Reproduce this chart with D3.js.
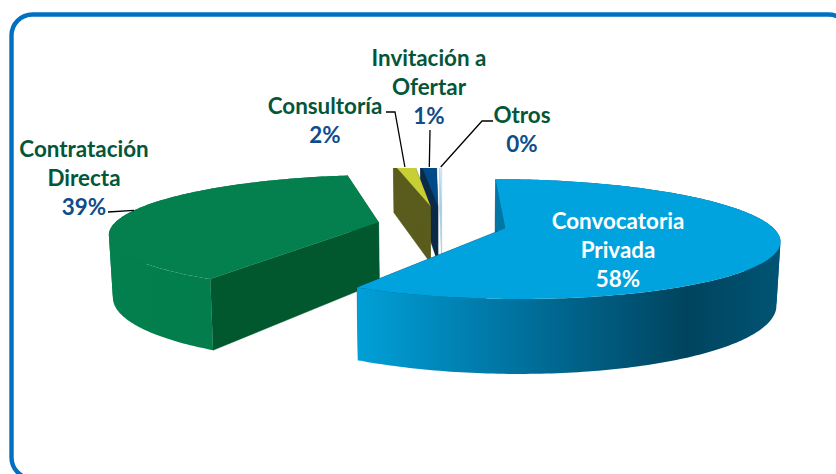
<!DOCTYPE html>
<html><head><meta charset="utf-8">
<script src="https://cdn.jsdelivr.net/npm/d3@7"></script>
<style>html,body{margin:0;padding:0;background:#fff;overflow:hidden}svg{display:block}text{font-family:Lato,"Open Sans",sans-serif;font-weight:700;text-anchor:middle}</style>
</head><body><svg id="c" width="836" height="474"></svg>
<script>
// Data
const categories = ["Convocatoria Privada","Contratación Directa","Consultoría","Invitación a Ofertar","Otros"];
const values = [58.4, 38.7, 1.55, 1.2, 0.15];
// Label layout
const labelLines = [["Convocatoria","Privada"],["Contratación","Directa"],["Consultoría"],["Invitación a","Ofertar"],["Otros"]];
const labelX = [618, 84, 325, 429, 522];
const labelY = [229, 157, 114, 66, 123];
const leaderFraction = [null, .52, .45, .5, .5];
const leaderBends = [null, [[108,212]], [[395,112],[386,112]], [[430,130]], [[482,121],[493,121]]];
// Slice styling
const explode = [.245,.245,.35,.35,.35];
const topColors = ["#00A3DD","#03804E","#C8CF35","#004A88","#D5EAF5"];
const sideColors = ["#004F6E","#01582F","#5A5C1D","#0A2A47","#A9CFE3"];
const wallStops = [
  [[0,"#00A0D8"],[.35,"#0075A3"],[.78,"#00445F"],[1,"#005474"]],
  [[0,"#03804E"],[.5,"#027D4B"],[1,"#027A49"]],
  [[0,"#5A5C1D"],[1,"#5A5C1D"]],
  [[0,"#0A2A47"],[1,"#0A2A47"]],
  [[0,"#A9CFE3"],[1,"#A9CFE3"]]
];
const drawOrder = [4,3,2,1,0];
const nameColor="#03563A", pctColor="#0F4C8C";

// Perspective model
const x0=442,y0=224.5,S=265,T=56.6,p=.18,h=60.6,floorShrink=.988;
const xS=d3.scaleLinear().domain([-1,1]).range([x0-S,x0+S]);
const yS=d3.scaleLinear().domain([-1,1]).range([y0+T,y0-T]);
function proj(X,Y,low){
  const w=1+p*Y;
  const q=xS(X/w)-x0;
  return [x0+q*(low?floorShrink:1), yS(Y/w)+(low?h/w:0)];
}
const arcs=d3.pie().sort(null).startAngle(0).endAngle(2*Math.PI)(values);
const total=d3.sum(values), pct=d3.format(".0%");

const svg=d3.select("#c");
const defs=svg.append("defs");
defs.append("clipPath").attr("id","plot").append("rect").attr("x",0).attr("y",168).attr("width",836).attr("height",306);

arcs.forEach((a,i)=>{
  const mid=(a.startAngle+a.endAngle)/2;
  a.ox=explode[i]*Math.sin(mid); a.oy=explode[i]*Math.cos(mid);
  a.rim=t=>[a.ox+Math.sin(t),a.oy+Math.cos(t)];
});

// frame
svg.append("rect").attr("x",11.5).attr("y",14.5).attr("width",838).attr("height",464).attr("rx",21)
  .attr("fill","none").attr("stroke","#0070C0").attr("stroke-width",4.4);

const g=svg.append("g").attr("clip-path","url(#plot)");
const line=d3.line();
drawOrder.forEach(i=>{
  const a=arcs[i];
  const n=Math.max(2,Math.ceil((a.endAngle-a.startAngle)*60));
  const ts=d3.range(n+1).map(k=>a.startAngle+(a.endAngle-a.startAngle)*k/n);
  const up=ts.map(t=>proj(...a.rim(t),false));
  const lo=ts.map(t=>proj(...a.rim(t),true));
  const apexU=proj(a.ox,a.oy,false), apexL=proj(a.ox,a.oy,true);
  const xs=up.map(d=>d[0]);
  const gid="wall"+i;
  const gr=defs.append("linearGradient").attr("id",gid).attr("gradientUnits","userSpaceOnUse")
    .attr("x1",d3.min(xs)).attr("x2",d3.max(xs)).attr("y1",0).attr("y2",0);
  wallStops[i].forEach(s=>gr.append("stop").attr("offset",s[0]).attr("stop-color",s[1]));
  // radial faces
  [0,n].forEach(k=>{
    g.append("path").attr("fill",sideColors[i]).attr("stroke",sideColors[i]).attr("stroke-width",.4)
     .attr("d",line([apexU,up[k],lo[k],apexL])+"Z");
  });
  // outer wall, split into runs monotonic in x so that the strip never cancels itself
  let start=0;
  for(let k=1;k<=n;k++){
    const turn=k<n && Math.sign(up[k][0]-up[k-1][0])!==Math.sign(up[k+1][0]-up[k][0]);
    if(turn||k===n){
      const u=up.slice(start,k+1), l=lo.slice(start,k+1).reverse();
      g.append("path").attr("fill",`url(#${gid})`).attr("d",line(u.concat(l))+"Z");
      start=k;
    }
  }
  // top
  g.append("path").attr("fill",topColors[i]).attr("d",line([apexU].concat(up))+"Z");
});

// leaders
arcs.forEach((a,i)=>{
  if(leaderBends[i]===null) return;
  const t=a.startAngle+(a.endAngle-a.startAngle)*leaderFraction[i];
  let s=proj(...a.rim(t),false);
  const ap=proj(a.ox,a.oy,false);
  if(s[1]<167){const f=(ap[1]-167)/(ap[1]-s[1]); s=[ap[0]+(s[0]-ap[0])*f,167];}
  svg.append("path").attr("fill","none").attr("stroke","#000").attr("stroke-width",1.3)
    .attr("d",line([s].concat(leaderBends[i])));
});

// labels
const lh=29;
categories.forEach((c,i)=>{
  const lines=labelLines[i];
  const inside=i===0;
  lines.forEach((l,k)=>svg.append("text").attr("x",labelX[i]).attr("y",labelY[i]+k*lh)
    .attr("font-size",22.4).attr("fill",inside?"#fff":nameColor).text(l));
  svg.append("text").attr("x",labelX[i]).attr("y",labelY[i]+lines.length*lh)
    .attr("font-size",22.4).attr("fill",inside?"#fff":pctColor).text(pct(values[i]/total));
});
</script></body></html>
